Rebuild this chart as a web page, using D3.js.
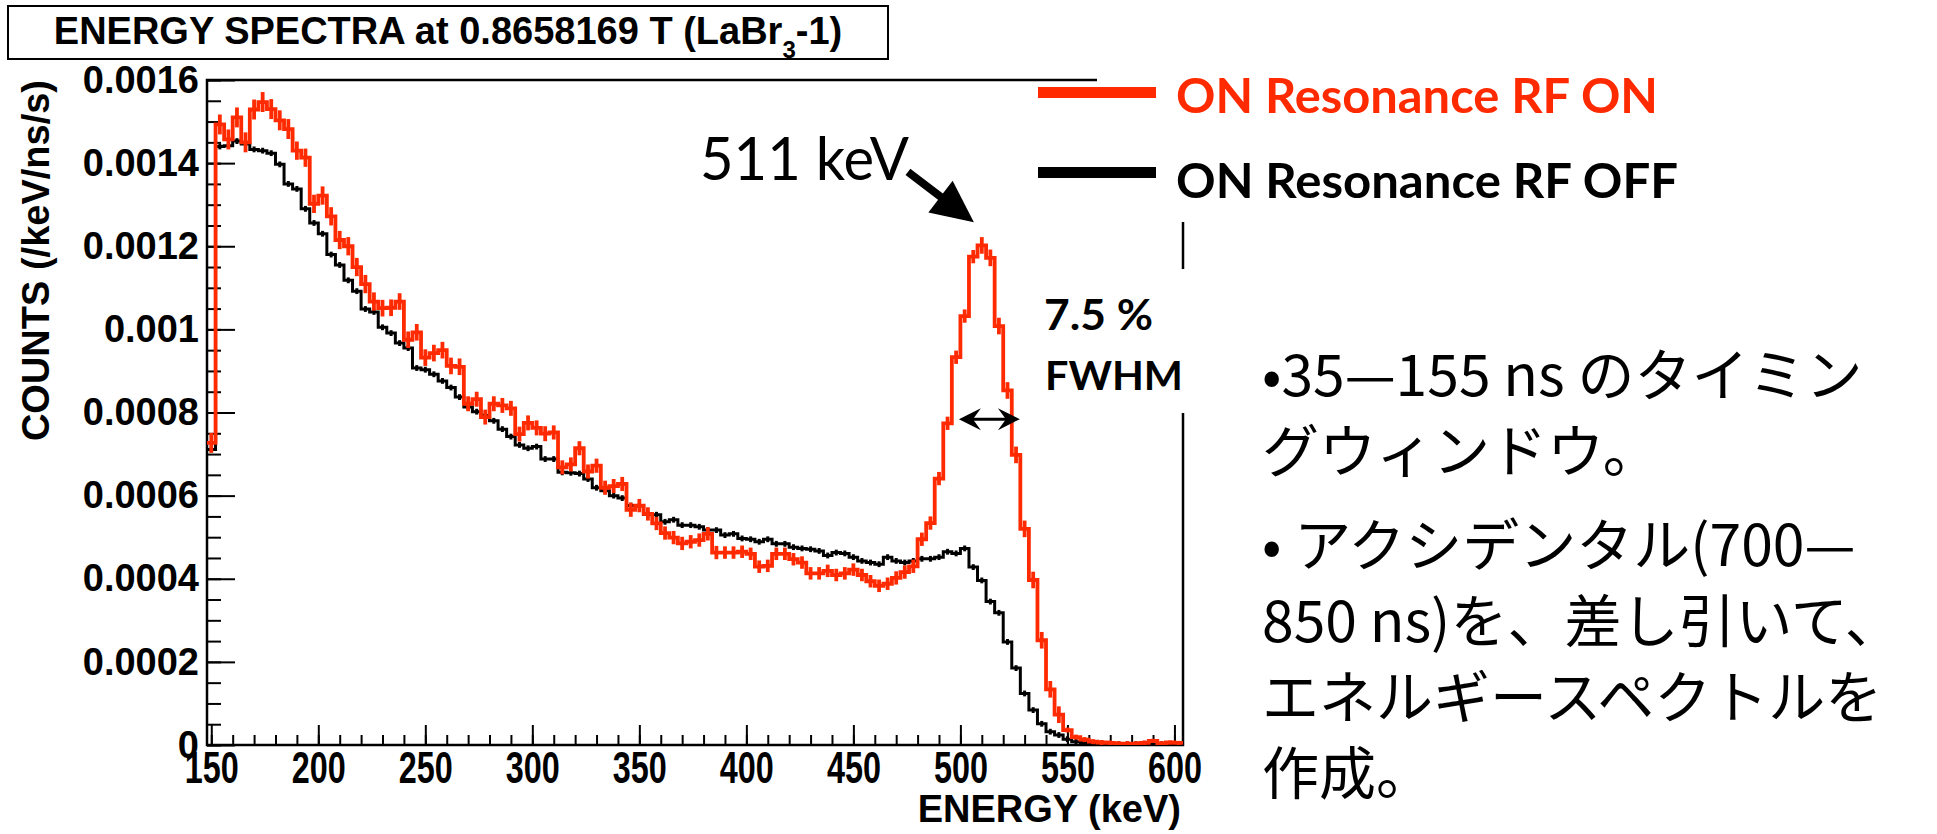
<!DOCTYPE html>
<html>
<head>
<meta charset="utf-8">
<script src="https://cdn.jsdelivr.net/npm/d3@7"></script>
<style>
  body { margin: 0; background: #fff; }
  svg { display: block; }
</style>
</head>
<body>
<div id="chart"></div>
<script>
// histogram binning (keV)
const binStart = 148;
const binWidth = 4;

// counts per bin, in units of 1e-4 /keV/ns/s
const rfOn = [7.27,14.93,14.57,15.10,14.50,15.29,15.47,15.30,15.03,14.82,
  14.30,14.13,13.02,13.22,12.72,12.15,12.00,11.50,11.09,10.67,
  10.51,10.52,10.67,9.75,9.93,9.32,9.43,9.50,9.12,9.10,
  8.21,8.32,7.89,8.21,8.17,8.10,7.48,7.75,7.63,7.49,
  7.52,6.68,6.75,7.14,6.58,6.72,6.19,6.23,6.28,5.66,
  5.76,5.56,5.33,5.10,4.99,4.85,4.89,4.93,5.08,4.63,
  4.63,4.63,4.65,4.60,4.29,4.31,4.60,4.60,4.47,4.39,
  4.13,4.13,4.19,4.09,4.13,4.22,4.09,3.94,3.83,3.88,
  4.02,4.16,4.30,4.95,5.34,6.41,7.74,9.33,10.32,11.75,
  12.02,11.72,10.08,8.53,6.98,5.20,3.97,2.52,1.34,0.73,
  0.36,0.19,0.13,0.08,0.06,0.05,0.03,0.03,0.03,0.05,
  0.10,0.04,0.06,0.05];
const rfOff = [7.11,14.40,14.42,14.53,14.46,14.33,14.30,14.24,13.97,13.50,
  13.38,12.90,12.56,12.30,11.80,11.55,11.18,10.92,10.49,10.42,
  10.05,9.91,9.67,9.55,9.07,9.03,8.92,8.76,8.60,8.37,
  8.13,8.02,7.93,7.80,7.60,7.42,7.22,7.14,7.18,6.88,
  6.88,6.56,6.55,6.53,6.40,6.19,6.12,6.00,5.94,5.76,
  5.75,5.55,5.54,5.37,5.42,5.29,5.29,5.25,5.17,5.17,
  5.05,5.08,4.97,4.95,4.89,4.95,4.84,4.84,4.76,4.73,
  4.71,4.67,4.56,4.63,4.61,4.52,4.43,4.39,4.35,4.52,
  4.43,4.39,4.43,4.48,4.48,4.52,4.65,4.61,4.73,4.28,
  3.96,3.45,3.18,2.48,1.85,1.24,0.84,0.51,0.32,0.24,
  0.14,0.08,0.06,0.04,0.03,0.02,0.02,0.02,0.02,0.02,
  0.02,0.02,0.02,0.02];
// error bar half heights (same units): RF ON per group of 10 bins, RF OFF constant
const errOnBands = [0.24, 0.22, 0.20, 0.18, 0.17, 0.16, 0.15, 0.15, 0.16, 0.20, 0.06, 0.05];
const errOff = 0.07;

const xTicks = [150, 200, 250, 300, 350, 400, 450, 500, 550, 600];
const yTicks = [0, 0.0002, 0.0004, 0.0006, 0.0008, 0.001, 0.0012, 0.0014, 0.0016];
const yTickLabels = ["0", "0.0002", "0.0004", "0.0006", "0.0008", "0.001", "0.0012", "0.0014", "0.0016"];

const titleMain = "ENERGY SPECTRA at 0.8658169 T (LaBr";
const titleSub = "3";
const titleEnd = "-1)";
const legendLabels = ["ON Resonance RF ON", "ON Resonance RF OFF"];
const noteLines = ["•35—155 ns のタイミン", "グウィンドウ。", "• アクシデンタル(700—",
  "850 ns)を、差し引いて、", "エネルギースペクトルを", "作成。"];
const noteParagraph = [0, 0, 1, 1, 1, 1];

const RED = "#ff2a00";
const W = 1937, H = 834;
const frame = { left: 207, right: 1183, top: 80, bottom: 745 };
const axisFont = "'Liberation Sans', Arial, Helvetica, sans-serif";

const svg = d3.select("#chart").append("svg")
  .attr("width", W)
  .attr("height", H);

var x = d3.scaleLinear()
  .domain([binStart, binStart + binWidth * rfOn.length])
  .range([frame.left, frame.right]);
var y = d3.scaleLinear()
  .domain([0, 0.0016])
  .range([frame.bottom, frame.top]);

// title box
svg.append("rect")
  .attr("x", 8).attr("y", 6).attr("width", 880).attr("height", 53)
  .attr("fill", "#fff").attr("stroke", "#000").attr("stroke-width", 2);
const title = svg.append("text")
  .attr("x", 448).attr("y", 44)
  .attr("text-anchor", "middle")
  .style("font-family", axisFont).style("font-weight", "bold").style("font-size", "38px")
  .text(titleMain);
title.append("tspan").attr("dy", 14).style("font-size", "24px").text(titleSub);
title.append("tspan").attr("dy", -14).text(titleEnd);

// frame
svg.append("rect")
  .attr("x", frame.left).attr("y", frame.top)
  .attr("width", frame.right - frame.left).attr("height", frame.bottom - frame.top)
  .attr("fill", "none").attr("stroke", "#000").attr("stroke-width", 2.5);

// ticks (drawn inside the frame, ROOT style)
const yMinor = d3.range(0, 33).map(i => i * 0.00005);
const xMinor = d3.range(0, 46).map(i => 150 + i * 10);

function tickAxis(axis, tx, ty) {
  const g = svg.append("g").attr("transform", `translate(${tx},${ty})`).call(axis);
  g.select(".domain").remove();
  g.selectAll("line").attr("stroke", "#000").attr("stroke-width", 2);
  return g;
}
tickAxis(d3.axisRight(y).tickValues(yMinor).tickSize(14).tickFormat(""), frame.left, 0);
tickAxis(d3.axisRight(y).tickValues(yTicks).tickSize(28).tickFormat(""), frame.left, 0);
tickAxis(d3.axisTop(x).tickValues(xMinor).tickSize(10).tickFormat(""), 0, frame.bottom);
tickAxis(d3.axisTop(x).tickValues(xTicks).tickSize(20).tickFormat(""), 0, frame.bottom);

// tick labels
const yLab = svg.append("g")
  .attr("transform", `translate(${frame.left},0)`)
  .call(d3.axisLeft(y).tickValues(yTicks).tickSize(0).tickPadding(8)
    .tickFormat((d, i) => yTickLabels[i]));
yLab.select(".domain").remove();
yLab.selectAll("text")
  .style("font-family", axisFont).style("font-weight", "bold").style("font-size", "38px")
  .attr("fill", "#000");

const xLab = svg.append("g")
  .attr("transform", `translate(0,${frame.bottom})`)
  .call(d3.axisBottom(x).tickValues(xTicks).tickSize(0).tickPadding(7)
    .tickFormat(d3.format("d")));
xLab.select(".domain").remove();
xLab.selectAll("text")
  .style("font-family", axisFont).style("font-weight", "bold").style("font-size", "44px")
  .attr("fill", "#000")
  .attr("textLength", 54).attr("lengthAdjust", "spacingAndGlyphs");

// axis titles
svg.append("text")
  .attr("transform", "translate(49,80) rotate(-90)")
  .attr("text-anchor", "end")
  .style("font-family", axisFont).style("font-weight", "bold").style("font-size", "38px")
  .text("COUNTS (/keV/ns/s)");
svg.append("text")
  .attr("x", 1181).attr("y", 822)
  .attr("text-anchor", "end")
  .style("font-family", axisFont).style("font-weight", "bold").style("font-size", "38px")
  .text("ENERGY (keV)");

// histograms
svg.append("clipPath").attr("id", "plotClip")
  .append("rect")
  .attr("x", frame.left).attr("y", frame.top)
  .attr("width", frame.right - frame.left).attr("height", frame.bottom - frame.top);

const plot = svg.append("g").attr("clip-path", "url(#plotClip)");
const step = d3.line().x(d => x(d[0])).y(d => y(d[1]));

function drawHist(values, errOf, color, width) {
  const bins = values.map((v, i) => ({
    x0: binStart + i * binWidth,
    x1: binStart + (i + 1) * binWidth,
    v: v * 1e-4,
    e: errOf(i) * 1e-4
  }));
  plot.append("path")
    .attr("d", step(bins.flatMap(b => [[b.x0, b.v], [b.x1, b.v]])))
    .attr("fill", "none")
    .attr("stroke", color)
    .attr("stroke-width", width)
    .attr("stroke-linejoin", "miter");
  plot.selectAll(null)
    .data(bins)
    .enter()
    .append("line")
    .attr("x1", d => x((d.x0 + d.x1) / 2))
    .attr("x2", d => x((d.x0 + d.x1) / 2))
    .attr("y1", d => y(Math.max(0, d.v - d.e)))
    .attr("y2", d => y(d.v + d.e))
    .attr("stroke", color)
    .attr("stroke-width", width);
}
drawHist(rfOff, () => errOff, "#000", 3);
drawHist(rfOn, i => errOnBands[Math.floor(i / 10)], RED, 3.8);

// white boxes of the overlaid legend / label
svg.append("rect").attr("x", 1097).attr("y", 60).attr("width", 840).attr("height", 162).attr("fill", "#fff");
svg.append("rect").attr("x", 1040).attr("y", 269).attr("width", 160).attr("height", 144).attr("fill", "#fff");

// legend
const legendColors = [RED, "#000"];
legendLabels.forEach((lab, i) => {
  const cy = 92.5 + i * 80;
  svg.append("rect")
    .attr("x", 1038).attr("y", cy - 5.5).attr("width", 118).attr("height", 11)
    .attr("fill", legendColors[i]);
  svg.append("text")
    .attr("x", 1176).attr("y", 113 + i * 85)
    .attr("fill", legendColors[i])
    .attr("textLength", i ? 502 : 482).attr("lengthAdjust", "spacingAndGlyphs")
    .style("font-family", "Lato, sans-serif").style("font-weight", "bold").style("font-size", "48px")
    .text(lab);
});

// 511 keV annotation
svg.append("text")
  .attr("x", 700).attr("y", 180)
  .attr("textLength", 209).attr("lengthAdjust", "spacingAndGlyphs")
  .style("font-family", "Lato, sans-serif").style("font-size", "60px")
  .text("511 keV");
{
  const x0 = x(475.5), y0 = y(0.001379);
  const x1 = x(506.3), y1 = y(0.001258);
  const len = Math.hypot(x1 - x0, y1 - y0);
  const ux = (x1 - x0) / len, uy = (y1 - y0) / len;
  const bx = x1 - ux * 42, by = y1 - uy * 42;
  svg.append("line")
    .attr("x1", x0).attr("y1", y0).attr("x2", bx + ux * 4).attr("y2", by + uy * 4)
    .attr("stroke", "#000").attr("stroke-width", 8);
  svg.append("path")
    .attr("d", `M${x1},${y1}L${bx - uy * 20},${by + ux * 20}L${bx + uy * 20},${by - ux * 20}Z`)
    .attr("fill", "#000");
}

// FWHM double arrow
{
  const xa = x(499.3), xb = x(527.8), ya = y(0.000784);
  svg.append("line")
    .attr("x1", xa + 6).attr("x2", xb - 6).attr("y1", ya).attr("y2", ya)
    .attr("stroke", "#000").attr("stroke-width", 3);
  [[xa, 1], [xb, -1]].forEach(([tx, s]) => {
    svg.append("path")
      .attr("d", `M${tx},${ya}L${tx + s * 22},${ya - 11}L${tx + s * 14},${ya}L${tx + s * 22},${ya + 11}Z`)
      .attr("fill", "#000");
  });
}
svg.append("text")
  .attr("x", 1044).attr("y", 330)
  .attr("textLength", 109).attr("lengthAdjust", "spacingAndGlyphs")
  .style("font-family", "Lato, sans-serif").style("font-weight", "bold").style("font-size", "42px")
  .text("7.5 %");
svg.append("text")
  .attr("x", 1045).attr("y", 390)
  .attr("textLength", 138).attr("lengthAdjust", "spacingAndGlyphs")
  .style("font-family", "Lato, sans-serif").style("font-weight", "bold").style("font-size", "40px")
  .text("FWHM");

// notes (Japanese)
noteLines.forEach((line, i) => {
  svg.append("text")
    .attr("x", 1262)
    .attr("y", 396 + i * 76 + noteParagraph[i] * 18)
    .style("font-family", "'Noto Sans CJK JP', sans-serif")
    .style("font-size", "57px")
    .text(line);
});
</script>
</body>
</html>
